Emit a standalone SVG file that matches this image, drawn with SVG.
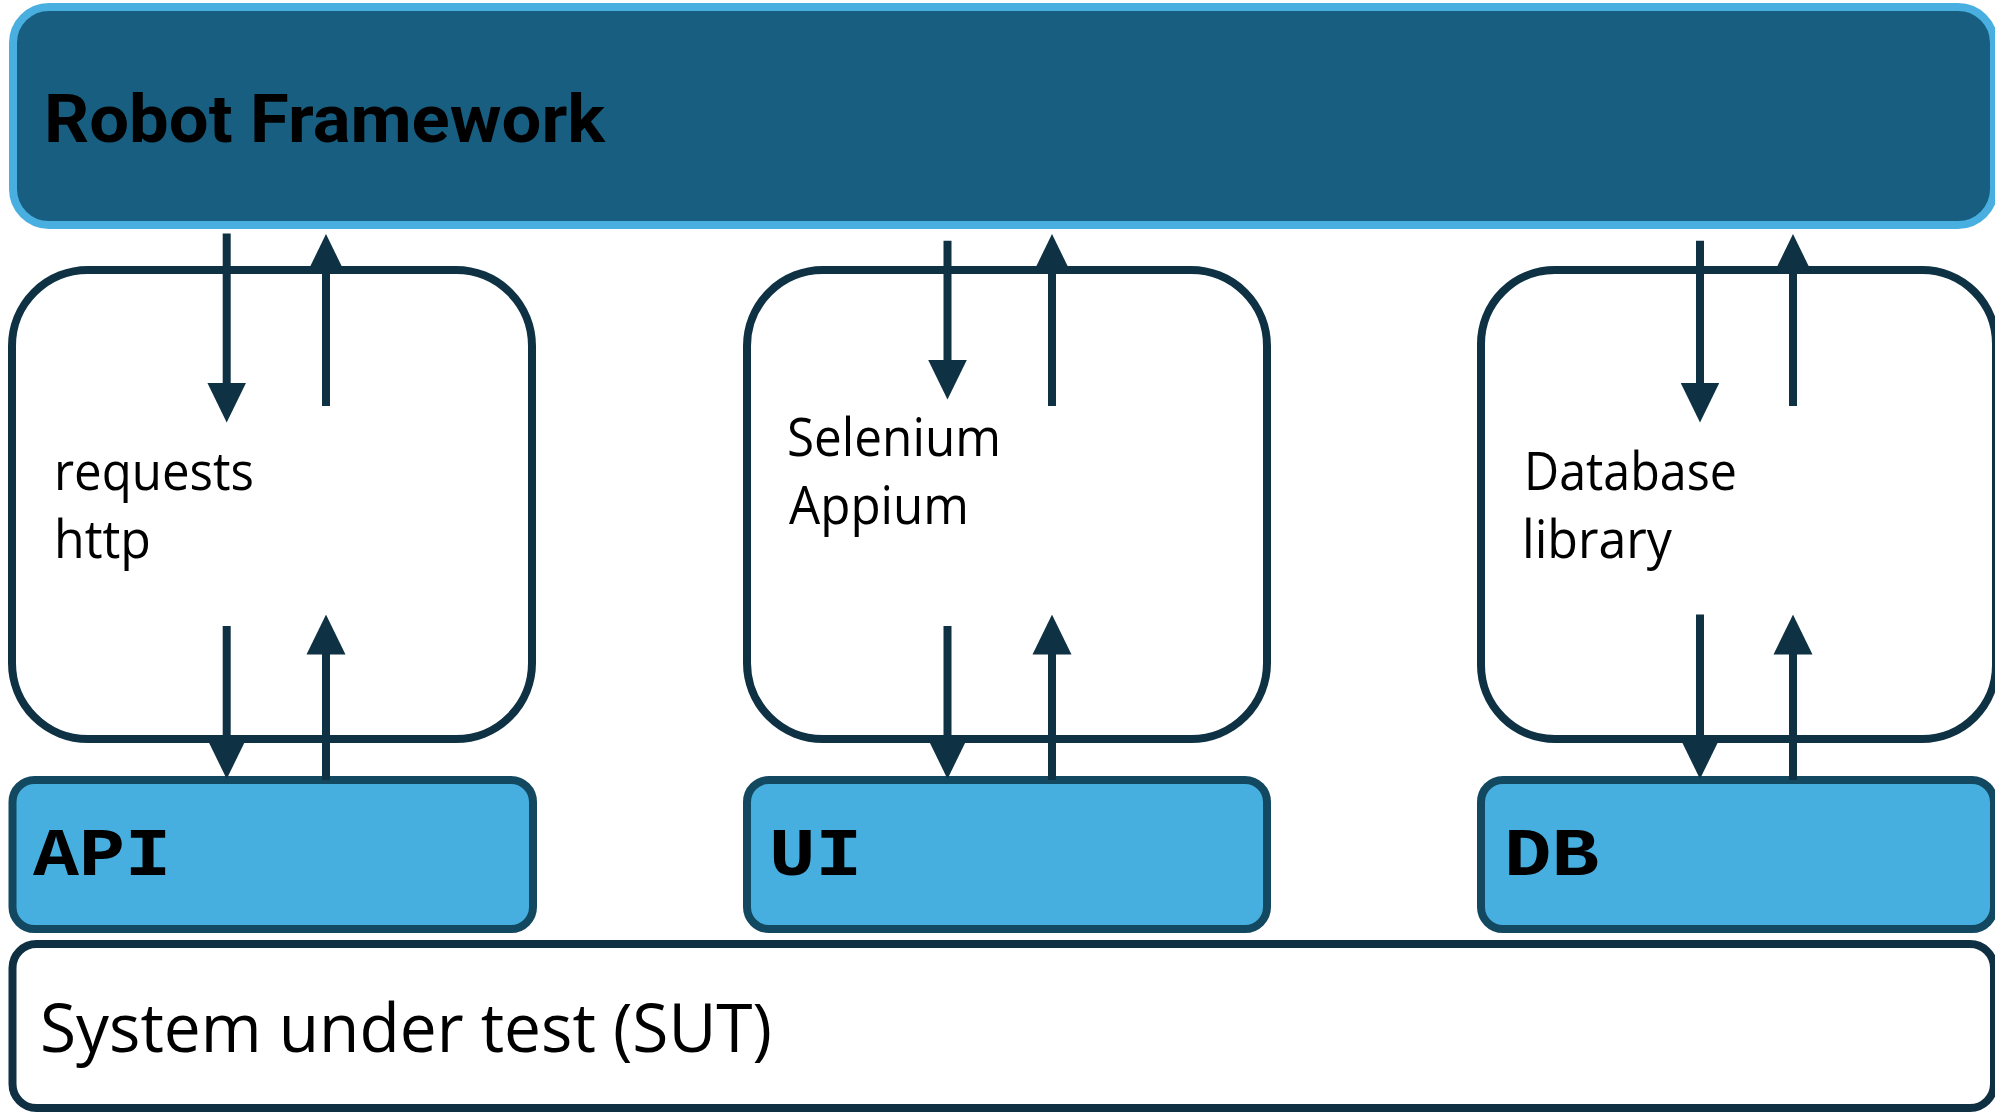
<svg xmlns="http://www.w3.org/2000/svg" width="1995" height="1114" viewBox="0 0 1995 1114">
<style>
.lib{fill:#ffffff;stroke:#0e3144;stroke-width:8}
.ifc{fill:#47afdf;stroke:#134861;stroke-width:8}
.lt{font-family:"Open Sans","Noto Sans",sans-serif;font-size:53px;fill:#000}
.mono{font-family:"Courier New","Liberation Mono",monospace;font-weight:700;font-size:68px;fill:#000}
.conn line{stroke:#0e3143;stroke-width:8}
</style>
<defs>
<marker id="ah" markerUnits="userSpaceOnUse" markerWidth="40" markerHeight="40" refX="4" refY="19.5" orient="auto" viewBox="0 0 40 39">
<path d="M0,0 L40,19.5 L0,39 Z" fill="#0e3143"/>
</marker>
</defs>
<rect width="1995" height="1114" fill="#ffffff"/>
<g id="robot-framework">
<rect x="13" y="7" width="1981" height="218" rx="36" fill="#175e80" stroke="#48afe0" stroke-width="8"/>
<text x="44" y="142" font-family="Roboto,'Open Sans',sans-serif" font-weight="700" font-size="67" textLength="561" lengthAdjust="spacingAndGlyphs" fill="#000">Robot Framework</text>
</g>
<g id="lib-requests">
<rect class="lib" x="12" y="270" width="520" height="469" rx="76"/>
<text class="lt" x="54" y="489.6" textLength="200" lengthAdjust="spacingAndGlyphs">requests</text>
<text class="lt" x="54" y="557.5" textLength="97" lengthAdjust="spacingAndGlyphs">http</text>
</g>
<g id="lib-selenium">
<rect class="lib" x="747" y="270" width="520" height="469" rx="76"/>
<text class="lt" x="787" y="455.7" textLength="214" lengthAdjust="spacingAndGlyphs">Selenium</text>
<text class="lt" x="789" y="523.6" textLength="180" lengthAdjust="spacingAndGlyphs">Appium</text>
</g>
<g id="lib-database">
<rect class="lib" x="1481" y="270" width="515" height="469" rx="74"/>
<text class="lt" x="1524" y="489.6" textLength="213" lengthAdjust="spacingAndGlyphs">Database</text>
<text class="lt" x="1522" y="557.5" textLength="150" lengthAdjust="spacingAndGlyphs">library</text>
</g>
<g id="iface-api">
<rect class="ifc" x="12.5" y="780" width="520.5" height="149" rx="22"/>
<text class="mono" x="33" y="875" textLength="138" lengthAdjust="spacingAndGlyphs">API</text>
</g>
<g id="iface-ui">
<rect class="ifc" x="747" y="780" width="520" height="149" rx="22"/>
<text class="mono" x="769" y="875" textLength="93" lengthAdjust="spacingAndGlyphs">UI</text>
</g>
<g id="iface-db">
<rect class="ifc" x="1481" y="780" width="513" height="149" rx="22"/>
<text class="mono" x="1504" y="875" textLength="95" lengthAdjust="spacingAndGlyphs">DB</text>
</g>
<g id="sut">
<rect x="12.5" y="944" width="1981.5" height="164" rx="24" fill="#ffffff" stroke="#0e3042" stroke-width="8"/>
<text x="40" y="1051.7" font-family="'Open Sans','Noto Sans',sans-serif" font-size="68" textLength="732" lengthAdjust="spacingAndGlyphs" fill="#000">System under test (SUT)</text>
</g>
<g id="connectors" class="conn">
<line x1="226.7" y1="233.6" x2="226.7" y2="386.5" marker-end="url(#ah)"/>
<line x1="326" y1="406" x2="326" y2="270" marker-end="url(#ah)"/>
<line x1="226.7" y1="626" x2="226.7" y2="743" marker-end="url(#ah)"/>
<line x1="326" y1="780" x2="326" y2="650.6" marker-end="url(#ah)"/>
<line x1="947.5" y1="240.7" x2="947.5" y2="363.6" marker-end="url(#ah)"/>
<line x1="1052" y1="406" x2="1052" y2="270" marker-end="url(#ah)"/>
<line x1="947.5" y1="626" x2="947.5" y2="743" marker-end="url(#ah)"/>
<line x1="1052" y1="780" x2="1052" y2="650.6" marker-end="url(#ah)"/>
<line x1="1700" y1="240.7" x2="1700" y2="386.5" marker-end="url(#ah)"/>
<line x1="1793" y1="406" x2="1793" y2="270" marker-end="url(#ah)"/>
<line x1="1700" y1="614.6" x2="1700" y2="743" marker-end="url(#ah)"/>
<line x1="1793" y1="780" x2="1793" y2="650.6" marker-end="url(#ah)"/>
</g>
</svg>
